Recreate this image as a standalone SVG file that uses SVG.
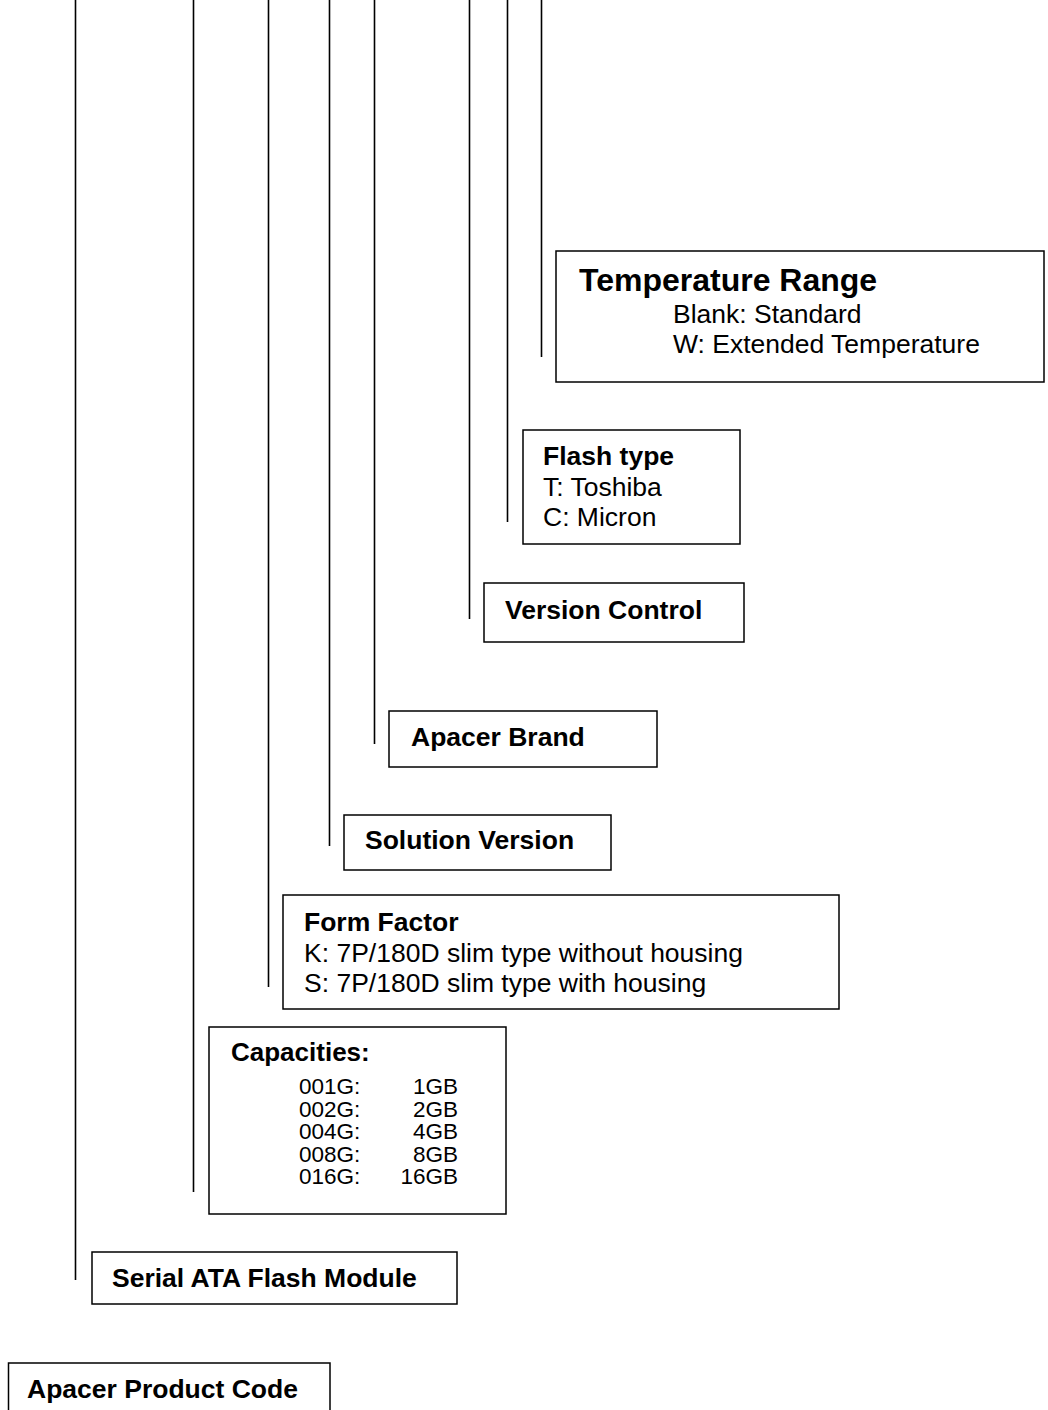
<svg xmlns="http://www.w3.org/2000/svg" width="1048" height="1410" viewBox="0 0 1048 1410">
<style>
.box{fill:#fff;stroke:#000;stroke-width:1.5}
.ln{stroke:#000;stroke-width:1.6;fill:none}
text{font-family:"Liberation Sans",Arial,sans-serif;fill:#000}
.b{font-weight:bold;font-size:26.5px}
.r{font-size:26.5px}
.t{font-weight:bold;font-size:32px}
.c{font-size:22.5px}
</style>
<rect width="1048" height="1410" fill="#fff"/>
<g id="connectors">
<line class="ln" x1="75.5" y1="0" x2="75.5" y2="1280"/>
<line class="ln" x1="193.5" y1="0" x2="193.5" y2="1192"/>
<line class="ln" x1="268.5" y1="0" x2="268.5" y2="987"/>
<line class="ln" x1="329.5" y1="0" x2="329.5" y2="846"/>
<line class="ln" x1="374.5" y1="0" x2="374.5" y2="744"/>
<line class="ln" x1="469.5" y1="0" x2="469.5" y2="619"/>
<line class="ln" x1="507.5" y1="0" x2="507.5" y2="522"/>
<line class="ln" x1="541.5" y1="0" x2="541.5" y2="357"/>
</g>
<g id="temperature-range">
<rect class="box" x="556" y="251" width="488" height="131"/>
<text class="t" x="579" y="291">Temperature Range</text>
<text class="r" x="673" y="323">Blank: Standard</text>
<text class="r" x="673" y="353">W: Extended Temperature</text>
</g>
<g id="flash-type">
<rect class="box" x="523" y="430" width="217" height="114"/>
<text class="b" x="543" y="465">Flash type</text>
<text class="r" x="543" y="496">T: Toshiba</text>
<text class="r" x="543" y="526">C: Micron</text>
</g>
<g id="version-control">
<rect class="box" x="484" y="583" width="260" height="59"/>
<text class="b" x="505" y="619">Version Control</text>
</g>
<g id="apacer-brand">
<rect class="box" x="389" y="711" width="268" height="56"/>
<text class="b" x="411" y="746">Apacer Brand</text>
</g>
<g id="solution-version">
<rect class="box" x="344" y="815" width="267" height="55"/>
<text class="b" x="365" y="849">Solution Version</text>
</g>
<g id="form-factor">
<rect class="box" x="283" y="895" width="556" height="114"/>
<text class="b" x="304" y="931">Form Factor</text>
<text class="r" x="304" y="962">K: 7P/180D slim type without housing</text>
<text class="r" x="304" y="992">S: 7P/180D slim type with housing</text>
</g>
<g id="capacities">
<rect class="box" x="209" y="1027" width="297" height="187"/>
<text class="b" x="231" y="1061" style="font-size:26px">Capacities:</text>
<text class="c" x="299" y="1094">001G:</text>
<text class="c" x="458" y="1094" text-anchor="end">1GB</text>
<text class="c" x="299" y="1117">002G:</text>
<text class="c" x="458" y="1117" text-anchor="end">2GB</text>
<text class="c" x="299" y="1139">004G:</text>
<text class="c" x="458" y="1139" text-anchor="end">4GB</text>
<text class="c" x="299" y="1162">008G:</text>
<text class="c" x="458" y="1162" text-anchor="end">8GB</text>
<text class="c" x="299" y="1184">016G:</text>
<text class="c" x="458" y="1184" text-anchor="end">16GB</text>
</g>
<g id="serial-ata-flash-module">
<rect class="box" x="92" y="1252" width="365" height="52"/>
<text class="b" x="112" y="1287">Serial ATA Flash Module</text>
</g>
<g id="apacer-product-code">
<rect class="box" x="8.5" y="1363" width="321.5" height="60"/>
<text class="b" x="27" y="1398">Apacer Product Code</text>
</g>
</svg>
